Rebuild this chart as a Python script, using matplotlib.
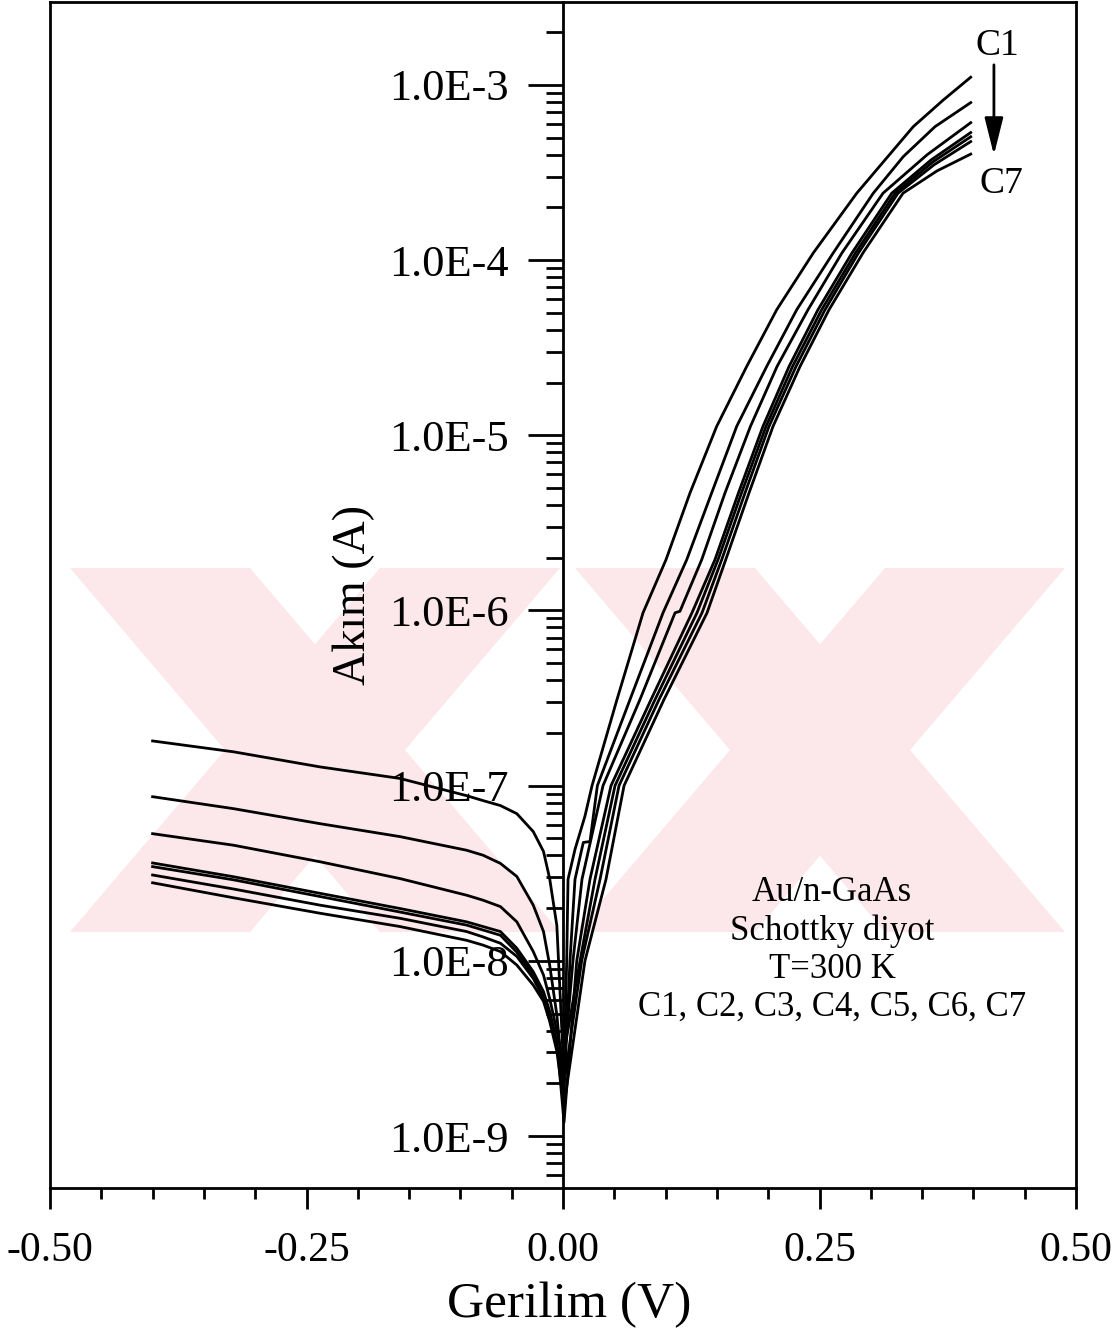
import numpy as np
import matplotlib.pyplot as plt
from matplotlib.patches import Polygon
from matplotlib.lines import Line2D
from matplotlib.ticker import FixedLocator, FuncFormatter, LogLocator, MultipleLocator

plt.rcParams['font.family'] = ['Liberation Serif', 'DejaVu Serif']

# --- data (V in volts, I in amperes) ---
v_rev = [-0.40, -0.321, -0.237, -0.159, -0.094, -0.078, -0.061, -0.045, -0.029, -0.019, -0.013, -0.006]

c1_i_rev = [1.80e-7, 1.56e-7, 1.28e-7, 1.10e-7, 8.77e-8, 8.22e-8, 7.70e-8, 6.92e-8, 5.47e-8, 4.21e-8, 2.95e-8, 1.59e-8]
c2_i_rev = [8.65e-8, 7.39e-8, 6.07e-8, 5.12e-8, 4.28e-8, 4.01e-8, 3.60e-8, 3.03e-8, 2.08e-8, 1.47e-8, 9.46e-9, 4.91e-9]
c3_i_rev = [5.32e-8, 4.57e-8, 3.68e-8, 2.95e-8, 2.37e-8, 2.22e-8, 2.04e-8, 1.67e-8, 1.13e-8, 8.30e-9, 6.10e-9, 3.98e-9]
c4_i_rev = [3.62e-8, 3.02e-8, 2.43e-8, 1.99e-8, 1.67e-8, 1.57e-8, 1.47e-8, 1.18e-8, 8.67e-9, 6.67e-9, 5.15e-9, 3.48e-9]
c5_i_rev = [3.45e-8, 2.90e-8, 2.33e-8, 1.90e-8, 1.60e-8, 1.50e-8, 1.40e-8, 1.12e-8, 8.30e-9, 6.40e-9, 4.90e-9, 3.20e-9]
c6_i_rev = [3.09e-8, 2.57e-8, 2.08e-8, 1.75e-8, 1.47e-8, 1.37e-8, 1.26e-8, 1.06e-8, 7.94e-9, 6.10e-9, 4.70e-9, 3.17e-9]
c7_i_rev = [2.79e-8, 2.29e-8, 1.87e-8, 1.57e-8, 1.31e-8, 1.23e-8, 1.13e-8, 9.46e-9, 7.27e-9, 5.87e-9, 4.52e-9, 3.05e-9]

v_tip = 0.001
i_tip = [2.2e-9, 1.8e-9, 2.6e-9, 1.2e-9, 3.0e-9, 2.0e-9, 1.5e-9]

c1_v_fwd = [0.0036, 0.0049, 0.0117, 0.0214, 0.0283, 0.0526, 0.0780, 0.1004, 0.1238, 0.1498, 0.1790,
            0.2083, 0.2440, 0.2863, 0.3138, 0.3414, 0.3707, 0.3974]
c1_i_fwd = [1.0e-8, 2.92e-8, 4.33e-8, 6.70e-8, 1.0e-7, 3.10e-7, 9.7e-7, 1.95e-6, 4.69e-6, 1.125e-5, 2.47e-5,
            5.21e-5, 1.10e-4, 2.41e-4, 3.73e-4, 5.78e-4, 8.21e-4, 1.107e-3]
c2_v_fwd = [0.0068, 0.0117, 0.0198, 0.0263, 0.0335, 0.0653, 0.0975, 0.1206, 0.1449, 0.1693, 0.1985,
            0.2278, 0.2634, 0.3024, 0.3317, 0.3626, 0.3974]
c2_i_fwd = [1.0e-8, 2.92e-8, 4.74e-8, 4.80e-8, 1.0e-7, 3.10e-7, 9.7e-7, 1.95e-6, 4.69e-6, 1.125e-5, 2.47e-5,
            5.21e-5, 1.10e-4, 2.41e-4, 3.90e-4, 5.78e-4, 7.93e-4]
c3_v_fwd = [0.0097, 0.0185, 0.0390, 0.0750, 0.1092, 0.1140, 0.1352, 0.1579, 0.1827, 0.2086, 0.2388,
            0.2719, 0.3119, 0.3548, 0.3974]
c3_i_fwd = [1.0e-8, 2.92e-8, 1.0e-7, 3.10e-7, 9.7e-7, 9.9e-7, 1.95e-6, 4.69e-6, 1.125e-5, 2.47e-5, 5.21e-5,
            1.10e-4, 2.41e-4, 3.99e-4, 6.09e-4]
c4_v_fwd = [0.0134, 0.0263, 0.0468, 0.0858, 0.1257, 0.1481, 0.1710, 0.1949, 0.2203, 0.2485, 0.2817,
            0.3204, 0.3587, 0.3974]
c4_i_fwd = [1.0e-8, 2.92e-8, 1.0e-7, 3.10e-7, 9.7e-7, 1.95e-6, 4.69e-6, 1.125e-5, 2.47e-5, 5.21e-5, 1.10e-4,
            2.41e-4, 3.73e-4, 5.35e-4]
c5_v_fwd = [0.0166, 0.0312, 0.0507, 0.0897, 0.1306, 0.1511, 0.1740, 0.1979, 0.2237, 0.2521, 0.2851,
            0.3236, 0.3606, 0.3974]
c5_i_fwd = [1.0e-8, 2.92e-8, 1.0e-7, 3.10e-7, 9.7e-7, 1.95e-6, 4.69e-6, 1.125e-5, 2.47e-5, 5.21e-5, 1.10e-4,
            2.41e-4, 3.64e-4, 5.06e-4]
c6_v_fwd = [0.0182, 0.0361, 0.0546, 0.0936, 0.1355, 0.1547, 0.1774, 0.2008, 0.2271, 0.2554, 0.2880,
            0.3265, 0.3616, 0.3974]
c6_i_fwd = [1.0e-8, 2.92e-8, 1.0e-7, 3.10e-7, 9.7e-7, 1.95e-6, 4.69e-6, 1.125e-5, 2.47e-5, 5.21e-5, 1.10e-4,
            2.41e-4, 3.50e-4, 4.75e-4]
c7_v_fwd = [0.0214, 0.0419, 0.0595, 0.0984, 0.1404, 0.1586, 0.1813, 0.2047, 0.2310, 0.2593, 0.2924,
            0.3314, 0.3645, 0.3974]
c7_i_fwd = [1.0e-8, 2.92e-8, 1.0e-7, 3.10e-7, 9.7e-7, 1.95e-6, 4.69e-6, 1.125e-5, 2.47e-5, 5.21e-5, 1.10e-4,
            2.41e-4, 3.23e-4, 4.03e-4]

y_major = [1e-9, 1e-8, 1e-7, 1e-6, 1e-5, 1e-4, 1e-3]
x_major = [-0.50, -0.25, 0.00, 0.25, 0.50]

rev_all = [c1_i_rev, c2_i_rev, c3_i_rev, c4_i_rev, c5_i_rev, c6_i_rev, c7_i_rev]
fwd_v_all = [c1_v_fwd, c2_v_fwd, c3_v_fwd, c4_v_fwd, c5_v_fwd, c6_v_fwd, c7_v_fwd]
fwd_i_all = [c1_i_fwd, c2_i_fwd, c3_i_fwd, c4_i_fwd, c5_i_fwd, c6_i_fwd, c7_i_fwd]

W, H = 1115, 1334
fig = plt.figure(figsize=(W / 100, H / 100), dpi=100)


def px(x, y):
    # pixel position (top-left origin) -> figure fraction
    return (x / W, 1 - y / H)


# faint watermark in the background
pink = '#fce7eb'
wm_shapes = [
    [(70, 568), (250, 568), (560, 932), (380, 932)],
    [(380, 568), (560, 568), (250, 932), (70, 932)],
    [(575, 568), (755, 568), (1065, 932), (885, 932)],
    [(885, 568), (1065, 568), (755, 932), (575, 932)],
]
for shp in wm_shapes:
    fig.patches.append(Polygon([px(*p) for p in shp], closed=True, transform=fig.transFigure,
                               facecolor=pink, edgecolor='none', zorder=-5))

ax = fig.add_axes([50 / W, 1 - 1188 / H, 1026 / W, 1186 / H])
ax.patch.set_alpha(0)

for i in range(7):
    v = v_rev + [v_tip] + fwd_v_all[i]
    cur = rev_all[i] + [i_tip[i]] + fwd_i_all[i]
    ax.plot(v, cur, color='black', lw=2.0, solid_joinstyle='round')

ax.set_yscale('log')
ax.set_xlim(-0.5, 0.5)
ax.set_ylim(5.05e-10, 2.975e-3)

# y axis drawn through V = 0
ax.spines['left'].set_position(('data', 0))
for s in ax.spines.values():
    s.set_linewidth(2)
ax.add_line(Line2D([0, 0], [0, 1], transform=ax.transAxes, color='black', lw=2, clip_on=False))

ax.yaxis.set_major_locator(FixedLocator(y_major))
ax.yaxis.set_minor_locator(LogLocator(base=10, subs=np.arange(2, 10)))
ax.yaxis.set_major_formatter(FuncFormatter(lambda val, pos: f"1.0E{int(round(np.log10(val)))}"))
ax.yaxis.set_minor_formatter(FuncFormatter(lambda val, pos: ""))
ax.xaxis.set_major_locator(FixedLocator(x_major))
ax.xaxis.set_minor_locator(MultipleLocator(0.05))
ax.xaxis.set_major_formatter(FuncFormatter(lambda val, pos: f"{val:.2f}"))

ax.tick_params(axis='y', which='major', direction='out', length=25, width=2, pad=14, labelsize=32)
ax.tick_params(axis='y', which='minor', direction='out', length=12, width=2)
ax.tick_params(axis='x', which='major', direction='out', length=15, width=2, pad=16, labelsize=30)
ax.tick_params(axis='x', which='minor', direction='out', length=8, width=2)

fig.text(*px(569, 1305), 'Gerilim (V)', ha='center', va='center', fontsize=37)
fig.text(*px(354, 595), 'Akım (A)', ha='center', va='center', rotation=90, fontsize=33)

ax.text(0.923, 0.963, 'C1', transform=ax.transAxes, ha='center', va='center', fontsize=27)
ax.text(0.927, 0.847, 'C7', transform=ax.transAxes, ha='center', va='center', fontsize=27)
ax.annotate('', xy=(0.920, 0.871), xytext=(0.920, 0.947), xycoords='axes fraction',
            arrowprops=dict(arrowstyle='-|>,head_length=0.6,head_width=0.15', mutation_scale=38,
                            lw=2, color='black', shrinkA=0, shrinkB=0))

fig.text(*px(832, 950), 'Au/n-GaAs\nSchottky diyot\nT=300 K\nC1, C2, C3, C4, C5, C6, C7',
         ha='center', va='center', fontsize=25, linespacing=1.2)

fig.savefig('out.png', dpi=100, facecolor='white')
